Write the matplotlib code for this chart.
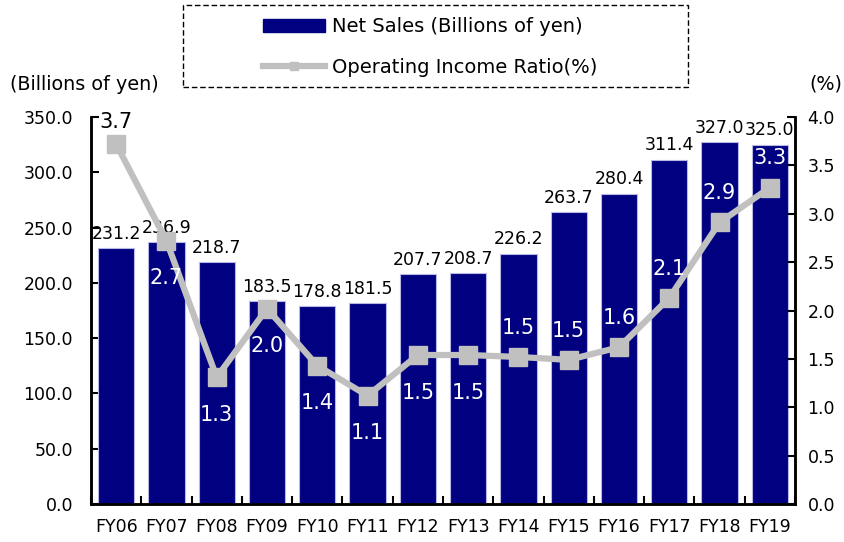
import matplotlib
matplotlib.use("Agg")
import matplotlib.pyplot as plt
from matplotlib.patches import Rectangle
from matplotlib.lines import Line2D
from matplotlib.patches import Patch
import numpy as np

categories = ["FY06", "FY07", "FY08", "FY09", "FY10", "FY11", "FY12",
              "FY13", "FY14", "FY15", "FY16", "FY17", "FY18", "FY19"]
net_sales = [231.2, 236.9, 218.7, 183.5, 178.8, 181.5, 207.7,
             208.7, 226.2, 263.7, 280.4, 311.4, 327.0, 325.0]
op_ratio = [3.72, 2.72, 1.31, 2.02, 1.43, 1.12, 1.54,
            1.54, 1.52, 1.49, 1.62, 2.13, 2.91, 3.27]
ratio_label_pos = ["above", "below", "below", "below", "below", "below", "below",
                   "below", "above", "above", "above", "above", "above", "above"]
left_ticks = [0, 50, 100, 150, 200, 250, 300, 350]
right_ticks = [0, 0.5, 1.0, 1.5, 2.0, 2.5, 3.0, 3.5, 4.0]

plt.rcParams['font.family'] = ['DejaVu Sans']

fig = plt.figure(figsize=(8.45, 5.42), dpi=100)
ax = fig.add_axes([0.1077, 0.0701, 0.9408 - 0.1077, 0.7841 - 0.0701])
x = np.arange(len(categories))

BAR = "#000080"
LINE = "#C0C0C0"

ax.bar(x, net_sales, width=0.72, color=BAR, edgecolor="#b8b8e8", linewidth=0.8, zorder=2)
ax.set_xlim(-0.5, len(categories) - 0.5)
ax.set_ylim(0, 350)
ax.set_yticks(left_ticks)
ax.set_yticklabels([f"{v:.1f}" for v in left_ticks], fontsize=12.5)
ax.set_xticks(x)
ax.set_xticklabels(categories, fontsize=12.5)
ax.tick_params(axis='x', length=0, pad=10)
ax.set_xticks(np.arange(len(categories) + 1) - 0.5, minor=True)
ax.tick_params(axis='x', which='minor', direction='in', length=6, width=1.5)
ax.tick_params(axis='y', direction='in', length=6, width=1.5, pad=13)
for s in ['left', 'bottom', 'right']:
    ax.spines[s].set_linewidth(1.8)
ax.spines['top'].set_visible(False)

for xi, v in zip(x, net_sales):
    ax.annotate(f"{v:.1f}", (xi, v), xytext=(0, 4), textcoords='offset points',
                ha='center', va='bottom', fontsize=12.5, color='black', zorder=3)

ax2 = ax.twinx()
ax2.set_ylim(0, 4.0)
ax2.set_yticks(right_ticks)
ax2.set_yticklabels([f"{v:.1f}" for v in right_ticks], fontsize=12.5)
ax2.tick_params(axis='y', direction='in', length=6, width=1.5, pad=9)
for s in ['left', 'bottom', 'right']:
    ax2.spines[s].set_linewidth(1.8)
ax2.spines['top'].set_visible(False)
ax2.plot(x, op_ratio, color=LINE, linewidth=4.5, marker='s', markersize=13,
         markerfacecolor=LINE, markeredgecolor=LINE, zorder=3)

for i, (xi, v, pos) in enumerate(zip(x, op_ratio, ratio_label_pos)):
    color = 'black' if i == 0 else 'white'
    if i == 0:
        dy = 16
    else:
        dy = 21 if pos == "above" else -27
    ax2.annotate(f"{v:.1f}", (xi, v), xytext=(0, dy), textcoords='offset points',
                 ha='center', va='center', fontsize=15, color=color, zorder=4)

fig.text(10 / 845, 1 - 84 / 542, "(Billions of yen)", fontsize=13.8, ha='left', va='center')
fig.text(826 / 845, 1 - 84 / 542, "(%)", fontsize=13.8, ha='center', va='center')

# legend box
fig.patches.append(Rectangle((183 / 845, 1 - 87 / 542), (688 - 183) / 845, (87 - 5) / 542,
                             transform=fig.transFigure, fill=False, edgecolor='black',
                             linestyle=(0, (4, 2)), linewidth=1.0))
handles = [Patch(facecolor=BAR, edgecolor=BAR),
           Line2D([0], [0], color=LINE, linewidth=4.5, marker='s', markersize=6,
                  markerfacecolor=LINE, markeredgecolor=LINE)]
fig.legend(handles, ["Net Sales (Billions of yen)", "Operating Income Ratio(%)"],
           loc='center', bbox_to_anchor=(430 / 845, 1 - 47 / 542), frameon=False,
           fontsize=14, handlelength=3.2, handletextpad=0.35, labelspacing=1.1)

fig.savefig("out.png", dpi=100)
